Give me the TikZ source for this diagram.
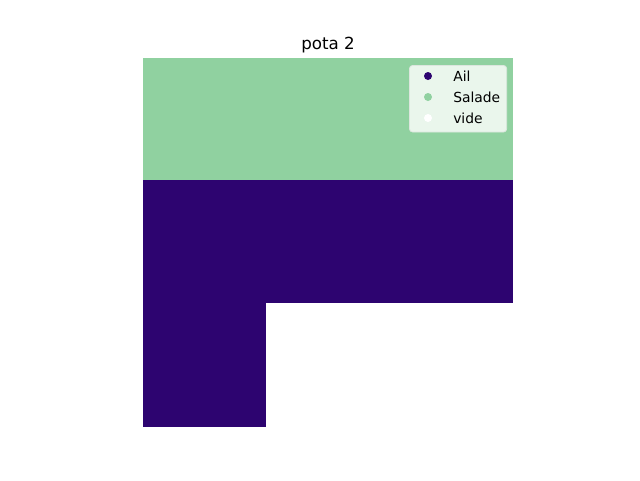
\documentclass[tikz,border=0pt]{standalone}
\usepackage{fontspec}
\setmainfont{DejaVu Sans}
\definecolor{ail}{RGB}{45,4,112}
\definecolor{salade}{RGB}{144,209,160}
\definecolor{legfill}{RGB}{234,246,236}
\definecolor{legedge}{RGB}{220,230,222}
\tikzset{
  cell/.style={draw=none},
  legtext/.style={anchor=base west, inner sep=0pt, font=\fontsize{10.4}{12}\selectfont},
  legdot/.style={circle, inner sep=0pt, minimum size=6pt, draw=none},
}
\begin{document}
\begin{tikzpicture}[x=0.75pt,y=-0.75pt]
\useasboundingbox (0,0) rectangle (640,480);
\fill[white] (0,0) rectangle (640,480);
% grid cells
\fill[salade] (143,58) rectangle (513,180);
\fill[ail] (143,180) rectangle (513,303);
\fill[ail] (143,303) rectangle (266,427);
% title
\node[anchor=base, inner sep=0pt, font=\fontsize{12.5}{15}\selectfont] (title) at (328,49.5) {pota 2};
% legend
\node[draw=legedge, fill=legfill, rounded corners=2.5pt, line width=0.6pt, minimum width=73pt, minimum height=50pt, anchor=north west, inner sep=0pt] (legend) at (409,65) {};
\node[legdot, fill=ail] (d1) at (428,76) {};
\node[legdot, fill=salade] (d2) at (428,97) {};
\node[legdot, fill=white] (d3) at (428,118) {};
\node[legtext] (t1) at (453,81) {Ail};
\node[legtext] (t2) at (453,102) {Salade};
\node[legtext] (t3) at (453,123) {vide};
\end{tikzpicture}
\end{document}
